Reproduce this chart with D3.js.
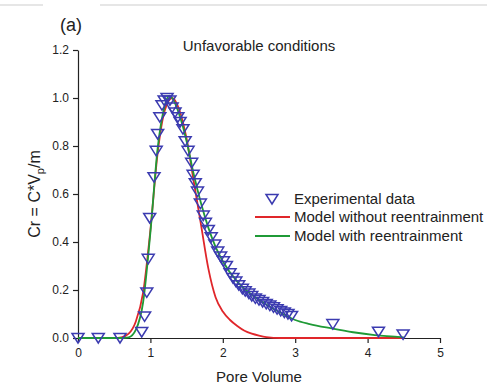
<!DOCTYPE html>
<html>
<head>
<meta charset="utf-8">
<script src="https://cdn.jsdelivr.net/npm/d3@7"></script>
<style>
  html, body { margin: 0; padding: 0; background: #fff; }
  svg { display: block; font-family: "Liberation Sans", Arial, sans-serif; }
</style>
</head>
<body>
<svg id="chart" width="487" height="385"></svg>
<script>
// Breakthrough data: pore volume vs normalised concentration
const expPV = [0, 0.28, 0.58, 0.88, 0.92, 0.95, 0.97, 0.99, 1.05, 1.08, 1.10, 1.13, 1.16, 1.19, 1.23, 1.27,
  1.30, 1.34, 1.38, 1.41, 1.45, 1.48, 1.52, 1.57, 1.59, 1.62, 1.65, 1.69, 1.73, 1.76, 1.80, 1.84, 1.89,
  1.93, 1.97, 2.01, 2.05, 2.10, 2.14, 2.18, 2.22, 2.27, 2.31, 2.36, 2.40, 2.45, 2.50, 2.55, 2.60, 2.65,
  2.70, 2.75, 2.80, 2.85, 2.90, 2.95, 3.52, 4.15, 4.49];
const expCr = [0, 0, 0, 0.025, 0.09, 0.19, 0.33, 0.50, 0.67, 0.78, 0.85, 0.92, 0.97, 0.99, 1.0, 0.99,
  0.96, 0.94, 0.92, 0.90, 0.87, 0.82, 0.78, 0.73, 0.68, 0.645, 0.61, 0.56, 0.51, 0.48, 0.45, 0.42, 0.39,
  0.36, 0.34, 0.32, 0.30, 0.27, 0.25, 0.235, 0.22, 0.205, 0.195, 0.185, 0.175, 0.165, 0.158, 0.15, 0.142, 0.135,
  0.128, 0.12, 0.113, 0.106, 0.10, 0.092, 0.058, 0.026, 0.015];

// Model without reentrainment
const noReentPV = [0, 0.5, 0.6, 0.7, 0.8, 0.9, 1.0, 1.1, 1.2, 1.3, 1.4, 1.5, 1.6, 1.7, 1.8, 1.9,
  2.0, 2.1, 2.2, 2.3, 2.4, 2.5, 2.6, 2.8, 3.5, 4.5];
const noReentCr = [0, 0, 0.003, 0.018, 0.07, 0.19, 0.45, 0.77, 0.95, 1.0, 0.95, 0.83, 0.65, 0.47, 0.29, 0.17,
  0.11, 0.075, 0.05, 0.03, 0.018, 0.01, 0.004, 0, 0, 0];

// Model with reentrainment
const reentPV = [0, 0.6, 0.7, 0.8, 0.9, 1.0, 1.1, 1.2, 1.26, 1.3, 1.4, 1.5, 1.6, 1.7, 1.8, 1.9,
  2.0, 2.2, 2.4, 2.6, 2.8, 3.0, 3.2, 3.5, 3.8, 4.1, 4.5];
const reentCr = [0, 0, 0.003, 0.035, 0.15, 0.44, 0.79, 0.97, 1.01, 1.0, 0.93, 0.82, 0.68, 0.56, 0.46, 0.38,
  0.32, 0.235, 0.18, 0.14, 0.105, 0.075, 0.058, 0.04, 0.024, 0.012, 0.003];

const xTicks = [0, 1, 2, 3, 4, 5];
const yTicks = [0.0, 0.2, 0.4, 0.6, 0.8, 1.0, 1.2];
const legendLabels = ["Experimental data", "Model without reentrainment", "Model with reentrainment"];

const colors = { exp: "#3b3bb0", red: "#e0262a", green: "#1f9a36" };

const svg = d3.select("#chart");

// thin grey rule at the very top
svg.append("line").attr("x1", 0).attr("x2", 43).attr("y1", 5).attr("y2", 5)
  .attr("stroke", "#e6e6e6").attr("stroke-width", 2);
svg.append("line").attr("x1", 100).attr("x2", 487).attr("y1", 5).attr("y2", 5)
  .attr("stroke", "#e6e6e6").attr("stroke-width", 2);

const x = d3.scaleLinear().domain([0, 5]).range([78, 440]);
const y = d3.scaleLinear().domain([0, 1.2]).range([338, 50]);

// axes with minor ticks
const gx = svg.append("g").attr("transform", `translate(0,${y(0)})`);
gx.call(d3.axisBottom(x).tickValues(d3.range(0.5, 5, 1)).tickSize(4).tickFormat(""));
gx.call(d3.axisBottom(x).tickValues(xTicks).tickSize(5).tickSizeOuter(0).tickFormat(d3.format("d")));
const gy = svg.append("g").attr("transform", `translate(${x(0)},0)`);
gy.call(d3.axisLeft(y).tickValues(d3.range(0.1, 1.2, 0.2)).tickSize(4).tickFormat(""));
gy.call(d3.axisLeft(y).tickValues(yTicks).tickSize(5).tickSizeOuter(0).tickFormat(d3.format(".1f")));

svg.selectAll(".domain").attr("stroke", "#222").attr("stroke-width", 1.2);
svg.selectAll(".tick line").attr("stroke", "#222").attr("stroke-width", 1.2);
gx.selectAll(".tick text").attr("font-size", 12).attr("fill", "#222").attr("dy", "0.9em");
gy.selectAll(".tick text").attr("font-size", 12).attr("fill", "#222").attr("dx", "-1");

// model curves
const lineGen = d3.line().x(d => x(d[0])).y(d => y(d[1])).curve(d3.curveMonotoneX);
svg.append("path").datum(noReentPV.map((v, i) => [v, noReentCr[i]]))
  .attr("d", lineGen).attr("fill", "none").attr("stroke", colors.red).attr("stroke-width", 1.8);
svg.append("path").datum(reentPV.map((v, i) => [v, reentCr[i]]))
  .attr("d", lineGen).attr("fill", "none").attr("stroke", colors.green).attr("stroke-width", 1.8);

// experimental markers: open down-pointing triangles
const tri = "M-6,-4.5 L6,-4.5 L0,5 Z";
svg.append("g").selectAll("path").data(expPV.map((v, i) => [v, expCr[i]])).join("path")
  .attr("d", tri)
  .attr("transform", d => `translate(${x(d[0])},${y(d[1])})`)
  .attr("fill", "none").attr("stroke", colors.exp).attr("stroke-width", 1.5);

// texts
svg.append("text").attr("x", 60).attr("y", 31).attr("font-size", 18).attr("fill", "#222").text("(a)");
svg.append("text").attr("x", 259).attr("y", 51).attr("text-anchor", "middle")
  .attr("font-size", 15).attr("fill", "#222").text("Unfavorable conditions");
svg.append("text").attr("x", 259).attr("y", 382).attr("text-anchor", "middle")
  .attr("font-size", 15).attr("fill", "#222").text("Pore Volume");

const yl = svg.append("text").attr("transform", "translate(40,194) rotate(-90)")
  .attr("text-anchor", "middle").attr("font-size", 16).attr("fill", "#222");
yl.append("tspan").text("Cr = C*V");
yl.append("tspan").attr("font-size", 11).attr("dy", 4).text("p");
yl.append("tspan").attr("dy", -4).text("/m");

// legend
const lg = svg.append("g");
lg.append("path").attr("d", tri).attr("transform", "translate(272,199)")
  .attr("fill", "none").attr("stroke", colors.exp).attr("stroke-width", 1.5);
lg.append("line").attr("x1", 255).attr("x2", 290).attr("y1", 217).attr("y2", 217)
  .attr("stroke", colors.red).attr("stroke-width", 1.8);
lg.append("line").attr("x1", 255).attr("x2", 290).attr("y1", 236).attr("y2", 236)
  .attr("stroke", colors.green).attr("stroke-width", 1.8);
[199, 217, 236].forEach((yy, i) => {
  lg.append("text").attr("x", 294).attr("y", yy).attr("dy", "0.35em")
    .attr("font-size", 15).attr("fill", "#222").text(legendLabels[i]);
});
</script>
</body>
</html>
